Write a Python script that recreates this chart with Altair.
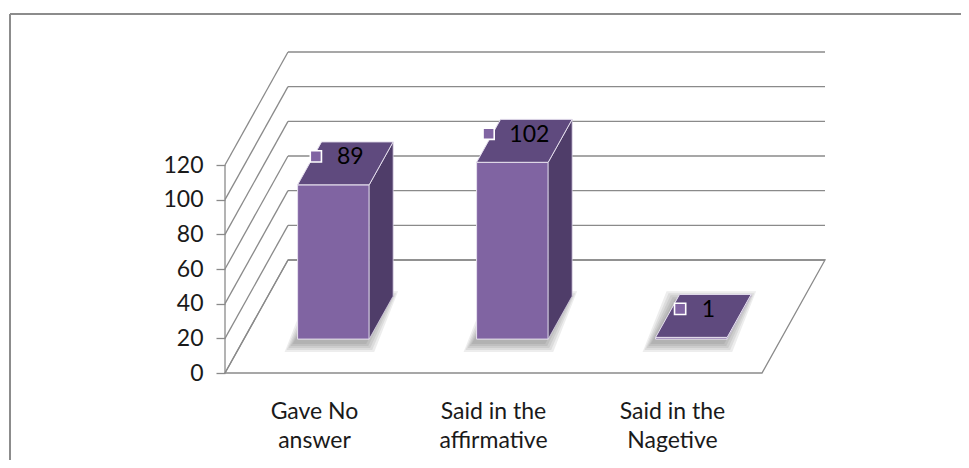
import altair as alt
import pandas as pd

# ---------------- data ----------------
categories = ["Gave No\nanswer", "Said in the\naffirmative", "Said in the\nNagetive"]
values = [89, 102, 1]
ticks = [0, 20, 40, 60, 80, 100, 120]

# ---------------- geometry (pseudo-3D oblique projection) ----------------
PX_BAND = 179.0            # pixels per category band
PX_UNIT = 208.0 / 120.0    # pixels per value unit
W, H = 736, 452            # view size
PAD_L = 217
Y0 = 365                   # view-y of value 0 on the front plane
DX = 63 / PX_BAND          # depth offset (x, band units)
DY = 113 / PX_UNIT         # depth offset (y, value units)
F1, F2 = 0.30, 0.68        # bar depth (front, back) as fraction of depth
BL, BR = 0.30, 0.70        # bar left/right inside band
FS = 23

def px(p):
    return p / PX_BAND

def py(p):
    return p / PX_UNIT

XS = alt.Scale(domain=[0, W / PX_BAND], nice=False, zero=False)
YS = alt.Scale(domain=[-(H - Y0) / PX_UNIT, Y0 / PX_UNIT], nice=False, zero=False)
YAX = alt.Axis(values=ticks, tickSize=9, tickColor="#8a8a8a", tickWidth=1.3,
               domain=False, grid=False, labelFont="Lato", labelFontSize=FS,
               labelColor="#1a1a1a", labelPadding=13, title=None)
N = len(values)

GRID = "#8a8a8a"
FRONT = "#8064A2"
TOP = "#5F4A7E"
SIDE = "#4F3D69"

def X(f):
    return alt.X(f, type="quantitative", scale=XS, axis=None)

def Y(f):
    return alt.Y(f, type="quantitative", scale=YS, axis=YAX)

# ---------------- frame ----------------
xl_border = -px(215)
y_top_border = py(Y0 - 6)
frame = pd.DataFrame([
    {"x": xl_border, "x2": W / PX_BAND, "y": y_top_border, "y2": y_top_border},
    {"x": xl_border, "x2": xl_border, "y": YS.domain[0], "y2": y_top_border},
])
frame_l = alt.Chart(frame).mark_rule(color="#8c8c8c", strokeWidth=2).encode(
    x=X("x"), x2="x2", y=Y("y"), y2="y2")

# ---------------- floor ----------------
floor = pd.DataFrame([
    {"y": 0, "x": 0, "x2": N},
    {"y": DY, "x": DX, "x2": N + DX},
])
floor_l = alt.Chart(floor).mark_area(orient="horizontal", fill="white", stroke=GRID,
                                     strokeWidth=1.3).encode(
    y=Y("y"), x=X("x"), x2="x2")

# ---------------- gridlines ----------------
grid_rows = []
for v in ticks:
    grid_rows.append({"x": DX, "x2": N + DX, "y": v + DY, "y2": v + DY})
    grid_rows.append({"x": 0, "x2": DX, "y": v, "y2": v + DY})
grid_rows.append({"x": 0, "x2": 0, "y": 0, "y2": ticks[-1]})
grid_l = alt.Chart(pd.DataFrame(grid_rows)).mark_rule(color=GRID, strokeWidth=1.3).encode(
    x=X("x"), x2="x2", y=Y("y"), y2="y2")

# ---------------- shadows ----------------
sh_rows = []
for i, v in enumerate(values):
    for e in [9, 7, 5, 3, 1]:
        g = f"{i}-{e}"
        sh_rows.append({"g": g, "y": F1 * DY - py(4 + e),
                        "xlo": i + BL + F1 * DX - px(4 + e), "xhi": i + BR + F1 * DX - px(4) + px(e)})
        sh_rows.append({"g": g, "y": F2 * DY - py(4) + py(e),
                        "xlo": i + BL + F2 * DX - px(4 + e), "xhi": i + BR + F2 * DX - px(4) + px(e)})
shadow_l = alt.Chart(pd.DataFrame(sh_rows)).mark_area(orient="horizontal", fill="#3a3a3a",
                                                      opacity=0.09).encode(
    y=Y("y"), x=X("xlo"), x2="xhi", detail="g:N")

# ---------------- bars ----------------
front_rows, side_rows, top_rows = [], [], []
for i, v in enumerate(values):
    front_rows.append({"x": i + BL + F1 * DX, "x2": i + BR + F1 * DX,
                       "y": F1 * DY, "y2": F1 * DY + v})
    side_rows.append({"b": i, "x": i + BR + F1 * DX, "ylo": F1 * DY, "yhi": F1 * DY + v})
    side_rows.append({"b": i, "x": i + BR + F2 * DX, "ylo": F2 * DY, "yhi": F2 * DY + v})
    top_rows.append({"b": i, "y": F1 * DY + v, "xlo": i + BL + F1 * DX, "xhi": i + BR + F1 * DX})
    top_rows.append({"b": i, "y": F2 * DY + v, "xlo": i + BL + F2 * DX, "xhi": i + BR + F2 * DX})

front_l = alt.Chart(pd.DataFrame(front_rows)).mark_rect(
    fill=FRONT, stroke="#e6e0ee", strokeWidth=1).encode(
    x=X("x"), x2="x2", y=Y("y"), y2="y2")
side_l = alt.Chart(pd.DataFrame(side_rows)).mark_area(
    orient="vertical", fill=SIDE, stroke="#d8d0e4", strokeWidth=0.8).encode(
    x=X("x"), y=Y("ylo"), y2="yhi", detail="b:N")
top_l = alt.Chart(pd.DataFrame(top_rows)).mark_area(
    orient="horizontal", fill=TOP, stroke="#e6e0ee", strokeWidth=1).encode(
    y=Y("y"), x=X("xlo"), x2="xhi", detail="b:N")

# ---------------- data labels ----------------
DIGIT_PX = 12.5
lab_rows = []
for i, v in enumerate(values):
    cx = i + 0.5 + (F1 + F2) / 2 * DX
    cy = v + (F1 + F2) / 2 * DY
    tx = cx + px(5)
    ty = cy + py(6)
    s = str(v)
    lab_rows.append({"tx": tx, "ty": ty, "t": s,
                     "mx": tx - px(len(s) * DIGIT_PX / 2 + 22), "my": ty + py(1)})
lab = pd.DataFrame(lab_rows)
marker_l = alt.Chart(lab).mark_square(size=125, fill=FRONT, stroke="white",
                                      strokeWidth=1.6, opacity=1).encode(
    x=X("mx"), y=Y("my"))
text_l = alt.Chart(lab).mark_text(font="Lato", fontSize=FS, color="black",
                                  align="center", baseline="middle").encode(
    x=X("tx"), y=Y("ty"), text="t:N")

# ---------------- category labels ----------------
cat = pd.DataFrame({"x": [i + 0.5 for i in range(N)],
                    "y": [-py(419 - 8 - Y0)] * N,
                    "c": categories})
cat_l = alt.Chart(cat).mark_text(font="Lato", fontSize=FS, color="#1a1a1a",
                                 align="center", baseline="alphabetic",
                                 lineBreak="\n", lineHeight=29).encode(
    x=X("x"), y=Y("y"), text="c:N")

chart = alt.layer(frame_l, floor_l, grid_l, shadow_l, front_l, side_l, top_l,
                  marker_l, text_l, cat_l).properties(
    width=W, height=H,
    autosize=alt.AutoSizeParams(type="none"),
    padding={"left": PAD_L, "top": 0, "right": 0, "bottom": 0},
).configure_view(stroke=None)

chart.save("out.html", embed_options={"renderer": "svg", "actions": False})
